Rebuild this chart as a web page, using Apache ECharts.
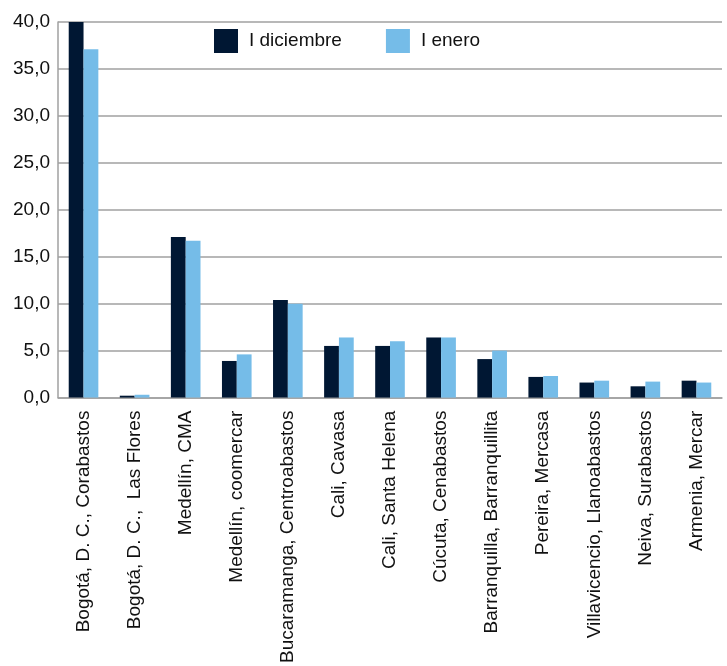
<!DOCTYPE html>
<html><head><meta charset="utf-8">
<script src="https://cdn.jsdelivr.net/npm/echarts@6/dist/echarts.min.js"></script>
<style>html,body{margin:0;padding:0;background:#fff}#c{width:727px;height:666px}</style>
</head><body><div id="c"></div>
<script>
const categories = ["Bogotá, D. C., Corabastos","Bogotá, D. C.,  Las Flores","Medellín, CMA","Medellín, coomercar","Bucaramanga, Centroabastos","Cali, Cavasa","Cali, Santa Helena","Cúcuta, Cenabastos","Barranquilla, Barranquillita","Pereira, Mercasa","Villavicencio, Llanoabastos","Neiva, Surabastos","Armenia, Mercar"];
const diciembre = [40.0, 0.2, 17.1, 3.9, 10.4, 5.5, 5.5, 6.4, 4.1, 2.2, 1.6, 1.2, 1.8];
const enero = [37.1, 0.3, 16.7, 4.6, 10.0, 6.4, 6.0, 6.4, 5.0, 2.3, 1.8, 1.7, 1.6];
const yTicks = {min: 0, max: 40, interval: 5};
const seriesNames = ["I diciembre", "I enero"];
const font = "Liberation Sans, Arial, sans-serif";
const chart = echarts.init(document.getElementById('c'), null, {renderer: 'canvas'});
chart.setOption({
  animation: false,
  color: ['#001733', '#75bce8'],
  legend: {
    left: 214, top: 29, padding: 0, itemWidth: 24, itemHeight: 24, itemGap: 44,
    icon: 'rect',
    textStyle: {fontFamily: font, fontSize: 19, color: '#111', padding: [0, 0, 0, 6]},
    data: seriesNames
  },
  grid: {left: 58, right: 5, top: 22, bottom: 265, containLabel: false},
  xAxis: {
    type: 'category', data: categories,
    axisLine: {lineStyle: {color: '#a0a0a0', width: 1.5}},
    axisTick: {show: false},
    axisLabel: {rotate: 90, interval: 0, fontFamily: font, fontSize: 19, color: '#111', margin: 13}
  },
  yAxis: {
    type: 'value', min: yTicks.min, max: yTicks.max, interval: yTicks.interval,
    axisLine: {show: true, lineStyle: {color: '#a0a0a0', width: 1.5}},
    axisTick: {show: false},
    splitLine: {lineStyle: {color: '#a0a0a0', width: 1.5}},
    axisLabel: {fontFamily: font, fontSize: 19, color: '#111', margin: 8,
      formatter: v => v.toFixed(1).replace('.', ',')}
  },
  series: [
    {name: seriesNames[0], type: 'bar', data: diciembre, barGap: '0%', barCategoryGap: '42%'},
    {name: seriesNames[1], type: 'bar', data: enero, barGap: '0%', barCategoryGap: '42%'}
  ]
});
</script></body></html>
